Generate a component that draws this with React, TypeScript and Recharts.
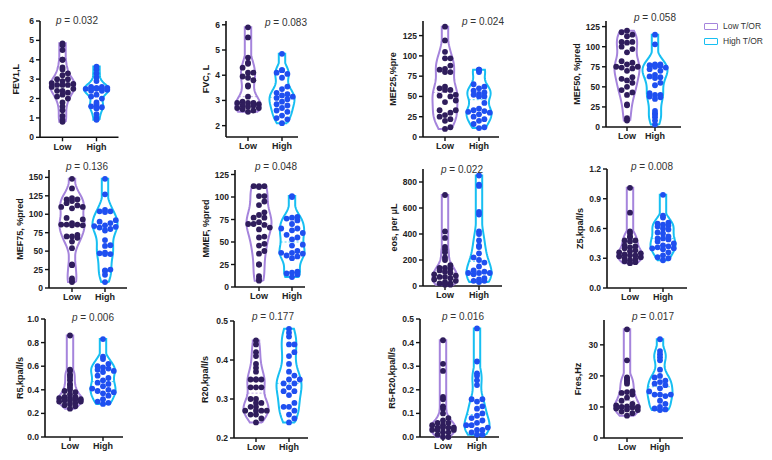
import React from 'react';
import { ScatterChart, Scatter, XAxis, YAxis } from 'recharts';

const groups = ['Low', 'High'];
const legendLabels = ['Low T/OR', 'High T/OR'];

const fev1Low = [4.85, 4.75, 4.5, 4.0, 4.0, 3.6, 3.5, 3.3, 3.2, 3.0, 3.0, 2.9, 2.8, 2.75, 2.7, 2.7, 2.7, 2.6, 2.5, 2.4, 2.4, 2.3, 2.2, 2.1, 2.0, 1.8, 1.6, 1.4, 1.1, 0.9, 0.8];
const fev1High = [3.65, 3.5, 3.3, 3.1, 2.9, 2.6, 2.6, 2.55, 2.55, 2.5, 2.5, 2.5, 2.5, 2.45, 2.4, 2.4, 2.2, 2.1, 2.0, 1.8, 1.7, 1.6, 1.55, 1.5, 1.5, 1.2, 1.0, 0.9];
const fvcLow = [5.9, 5.5, 4.7, 4.5, 4.45, 4.3, 4.1, 4.1, 3.95, 3.9, 3.8, 3.6, 3.55, 3.15, 2.95, 2.9, 2.9, 2.9, 2.85, 2.8, 2.8, 2.75, 2.7, 2.7, 2.65, 2.6, 2.55];
const fvcHigh = [4.85, 4.2, 4.2, 4.1, 4.05, 3.9, 3.55, 3.45, 3.3, 3.25, 3.2, 3.15, 3.1, 3.05, 2.95, 2.85, 2.8, 2.7, 2.6, 2.55, 2.4, 2.3, 2.25, 2.1];
const mef25Low = [136, 119, 105, 97, 97, 88, 84, 83, 80, 80, 62, 60, 58, 58, 52, 51, 50, 45, 43, 33, 33, 30, 27, 25, 22, 20, 12, 10];
const mef25High = [83, 83, 82, 80, 65, 62, 60, 57, 55, 53, 52, 50, 50, 42, 35, 33, 32, 31, 30, 28, 25, 22, 20, 16, 12, 11];
const mef50Low = [120, 118, 115, 113, 106, 106, 105, 100, 97, 93, 82, 80, 78, 75, 75, 74, 73, 70, 62, 60, 58, 55, 50, 46, 43, 40, 28, 27, 11, 8];
const mef50High = [115, 103, 78, 78, 77, 77, 76, 75, 74, 72, 70, 65, 63, 62, 61, 55, 52, 42, 40, 40, 38, 37, 35, 20, 17, 15, 12, 8, 3];
const mef75Low = [148, 135, 122, 120, 120, 118, 115, 112, 110, 110, 108, 95, 93, 88, 86, 86, 86, 85, 85, 72, 70, 70, 68, 63, 54, 32, 31, 13, 10, 8];
const mef75High = [148, 127, 106, 104, 104, 103, 92, 90, 88, 85, 84, 83, 82, 80, 78, 65, 58, 57, 48, 47, 46, 46, 25, 24, 23, 18, 8];
const mmefLow = [112, 112, 112, 111, 101, 101, 95, 91, 83, 80, 77, 77, 72, 70, 70, 69, 66, 64, 56, 55, 48, 46, 40, 37, 25, 25, 12, 9, 7];
const mmefHigh = [101, 100, 78, 77, 76, 74, 70, 65, 65, 63, 60, 58, 55, 53, 47, 46, 40, 38, 38, 37, 35, 34, 32, 17, 16, 15, 14, 11];
const eosLow = [700, 420, 370, 300, 280, 260, 220, 200, 160, 140, 140, 130, 120, 110, 100, 90, 80, 70, 70, 60, 50, 40, 30, 20, 20, 20, 10, 10];
const eosHigh = [850, 780, 770, 570, 550, 420, 400, 350, 310, 300, 250, 220, 200, 180, 150, 120, 110, 100, 100, 100, 90, 60, 50, 40, 40, 30];
const z5Low = [1.01, 0.76, 0.57, 0.55, 0.52, 0.51, 0.48, 0.48, 0.47, 0.43, 0.42, 0.41, 0.4, 0.38, 0.37, 0.36, 0.35, 0.34, 0.33, 0.33, 0.32, 0.31, 0.3, 0.29, 0.28, 0.27, 0.26, 0.25];
const z5High = [0.94, 0.73, 0.71, 0.66, 0.65, 0.64, 0.63, 0.62, 0.6, 0.59, 0.56, 0.55, 0.52, 0.5, 0.5, 0.49, 0.47, 0.45, 0.43, 0.42, 0.41, 0.4, 0.4, 0.39, 0.36, 0.33, 0.31, 0.3, 0.28];
const r5Low = [0.86, 0.57, 0.56, 0.53, 0.52, 0.5, 0.48, 0.45, 0.44, 0.42, 0.4, 0.39, 0.38, 0.36, 0.34, 0.34, 0.33, 0.33, 0.32, 0.32, 0.31, 0.31, 0.3, 0.3, 0.29, 0.28, 0.27, 0.26, 0.24];
const r5High = [0.83, 0.68, 0.66, 0.62, 0.6, 0.59, 0.58, 0.57, 0.56, 0.55, 0.52, 0.5, 0.48, 0.46, 0.45, 0.43, 0.41, 0.4, 0.39, 0.38, 0.37, 0.35, 0.32, 0.3, 0.29, 0.28];
const r20Low = [0.45, 0.44, 0.42, 0.41, 0.39, 0.38, 0.37, 0.35, 0.35, 0.35, 0.35, 0.33, 0.33, 0.33, 0.3, 0.3, 0.29, 0.29, 0.28, 0.28, 0.27, 0.27, 0.27, 0.27, 0.26, 0.26, 0.25, 0.24];
const r20High = [0.48, 0.47, 0.46, 0.44, 0.44, 0.42, 0.41, 0.39, 0.37, 0.36, 0.35, 0.35, 0.34, 0.34, 0.33, 0.32, 0.32, 0.31, 0.29, 0.28, 0.28, 0.27, 0.26, 0.25, 0.24];
const r5r20Low = [0.41, 0.31, 0.28, 0.17, 0.16, 0.13, 0.12, 0.1, 0.08, 0.07, 0.06, 0.06, 0.05, 0.05, 0.04, 0.04, 0.04, 0.04, 0.03, 0.03, 0.03, 0.02, 0.02, 0.01, 0.0, 0.0];
const r5r20High = [0.46, 0.32, 0.27, 0.26, 0.24, 0.22, 0.16, 0.16, 0.15, 0.13, 0.12, 0.1, 0.09, 0.08, 0.07, 0.06, 0.05, 0.05, 0.04, 0.03, 0.03, 0.02, 0.01, 0.01];
const fresLow = [35, 25, 19.5, 19, 18.5, 18, 17.5, 15, 14.8, 14.5, 14, 13, 12, 11, 10.5, 10.2, 10, 10, 9.8, 9.5, 9.2, 9, 8.5, 8, 7.2];
const fresHigh = [31.8, 28, 27, 26, 25, 22, 20, 19.5, 18.5, 18, 17.5, 17, 16, 15, 14, 14, 14, 13.5, 12, 11, 10, 9.5, 9.2, 9];

const yLabels = ['FEV1,L', 'FVC, L', 'MEF25,%pre', 'MEF50, %pred', 'MEF75, %pred', 'MMEF, %pred', 'eos, per μL', 'Z5,kpa/l/s', 'R5,kpa/l/s', 'R20,kpa/l/s', 'R5-R20,kpa/l/s', 'Fres,Hz'];
const pValues = ['0.032', '0.083', '0.024', '0.058', '0.136', '0.048', '0.022', '0.008', '0.006', '0.177', '0.016', '0.017'];
const yDomains = [[0, 6], [1.55, 6.15], [0, 143], [0, 132], [0, 160], [0, 130], [0, 900], [0, 1.2], [0, 1], [0.2, 0.5], [0, 0.5], [0, 38]];
const yTicks = [
  [0, 1, 2, 3, 4, 5, 6], [2, 3, 4, 5, 6], [0, 25, 50, 75, 100, 125], [0, 25, 50, 75, 100, 125],
  [0, 25, 50, 75, 100, 125, 150], [0, 25, 50, 75, 100, 125], [0, 200, 400, 600, 800], [0, 0.3, 0.6, 0.9, 1.2],
  [0, 0.2, 0.4, 0.6, 0.8, 1.0], [0.2, 0.3, 0.4, 0.5], [0, 0.1, 0.2, 0.3, 0.4, 0.5], [0, 10, 20, 30],
];
const tickDecimals = [0, 0, 0, 0, 0, 0, 0, 1, 1, 1, 1, 0];
const series = [
  [fev1Low, fev1High], [fvcLow, fvcHigh], [mef25Low, mef25High], [mef50Low, mef50High],
  [mef75Low, mef75High], [mmefLow, mmefHigh], [eosLow, eosHigh], [z5Low, z5High],
  [r5Low, r5High], [r20Low, r20High], [r5r20Low, r5r20High], [fresLow, fresHigh],
];

// x0, x1, lowX, highX, yTop, yBot, labelGap, pX, pY
const layout = [
  [39.5, 118, 62, 96, 20.7, 137, 23.5, 77, 21],
  [226, 298, 248, 282, 21, 137, 20, 286, 23],
  [423, 499, 445, 479, 21, 137, 30, 483, 22],
  [606, 681, 627, 655, 21, 127, 29, 655, 18],
  [49, 127, 72, 105, 170, 288, 29, 87, 167],
  [235, 305, 259, 292, 170, 287, 29, 276, 167],
  [423, 502, 445, 479, 169, 286, 29, 462, 170],
  [607, 687, 630, 663, 169, 288, 27, 652, 167],
  [45, 123, 70, 103, 319, 437, 25, 93, 318],
  [234, 308, 256, 289, 321, 438, 29, 273, 317],
  [420, 499, 443, 477, 319, 437, 28, 463, 317],
  [604, 683, 627, 660, 320, 438, 26, 653, 317],
];

const FONT = '"Liberation Sans", Arial, sans-serif';
const dotColors = ['#2f1d5c', '#1f4ff0'];
const violinColors = ['#a584dc', '#17bff2'];
const DOT_R = 2.9;
const MAX_HALF = 12.5;

const NoDot = () => <g />;

function quantile(sorted: number[], q: number) {
  const pos = (sorted.length - 1) * q;
  const lo = Math.floor(pos);
  const hi = Math.ceil(pos);
  return sorted[lo] + (sorted[hi] - sorted[lo]) * (pos - lo);
}

function buildViolin(values: number[], center: number, sx: number) {
  const sorted = [...values].sort((a, b) => a - b);
  const n = sorted.length;
  const mean = sorted.reduce((a, b) => a + b, 0) / n;
  const sd = Math.sqrt(sorted.reduce((a, b) => a + (b - mean) ** 2, 0) / (n - 1));
  const iqr = quantile(sorted, 0.75) - quantile(sorted, 0.25);
  const spread = iqr > 0 ? Math.min(sd, iqr / 1.34) : sd;
  const h = 0.72 * spread * Math.pow(n, -0.2) || 1e-3;
  const dens = (y: number) => sorted.reduce((a, v) => a + Math.exp(-0.5 * ((y - v) / h) ** 2), 0);
  const lo = sorted[0];
  const hi = sorted[n - 1];
  const steps = 60;
  const ys: number[] = [];
  for (let i = 0; i <= steps; i++) ys.push(lo + ((hi - lo) * i) / steps);
  const dmax = Math.max(...ys.map(dens));
  const widthAt = (y: number) => Math.max(3.2, (MAX_HALF * dens(y)) / dmax);
  const right = ys.map((y) => ({ x: center + widthAt(y) / sx, y }));
  const left = [...ys].reverse().map((y) => ({ x: center - widthAt(y) / sx, y }));
  const outline = [...right, ...left, right[0]];
  const med = quantile(sorted, 0.5);
  const median = [
    { x: center - widthAt(med) / sx, y: med },
    { x: center + widthAt(med) / sx, y: med },
  ];
  return { outline, median, widthAt };
}

function swarm(values: number[], center: number, sx: number, sy: number, widthAt: (y: number) => number) {
  const step = 5.4;
  const order = values.map((_, i) => i).sort((a, b) => values[a] - values[b]);
  const placed: { x: number; y: number }[] = [];
  const out: { x: number; y: number }[] = new Array(values.length);
  for (const i of order) {
    const yPx = values[i] * sy;
    const lim = Math.max(0, widthAt(values[i]) - DOT_R + 2);
    let best = 0;
    let bestScore = -Infinity;
    for (let k = 0; k < 9; k++) {
      const off = (k % 2 === 1 ? 1 : -1) * Math.ceil(k / 2) * step;
      if (k > 0 && Math.abs(off) > lim) continue;
      let minD = Infinity;
      for (const p of placed) minD = Math.min(minD, Math.hypot(p.x - off, p.y - yPx));
      if (minD >= 2 * DOT_R) {
        best = off;
        break;
      }
      if (minD > bestScore) {
        bestScore = minD;
        best = off;
      }
    }
    placed.push({ x: best, y: yPx });
    out[i] = { x: center + best / sx, y: values[i] };
  }
  return out;
}

function Panel({ idx }: { idx: number }) {
  const [x0, x1, lowX, highX, yTop, yBot, labelGap] = layout[idx];
  const dom = yDomains[idx];
  const s = highX - lowX;
  const xDomain = [1 - (lowX - x0) / s, 2 + (x1 - highX) / s];
  const sy = (yBot - yTop) / (dom[1] - dom[0]);
  const YW = 45;
  const MT = 6;
  const MR = 6;
  const XH = 22;
  const groupsData = series[idx].map((vals, g) => {
    const v = buildViolin(vals, g + 1, s);
    const dots = swarm(vals, g + 1, s, sy, v.widthAt);
    return { ...v, dots };
  });
  const dec = tickDecimals[idx];
  return (
    <div style={{ position: 'absolute', left: x0 - YW, top: yTop - MT }}>
      <ScatterChart
        width={x1 - x0 + YW + MR}
        height={yBot - yTop + MT + XH}
        margin={{ top: MT, right: MR, bottom: 0, left: 0 }}
      >
        <XAxis
          type="number"
          dataKey="x"
          domain={xDomain}
          ticks={[1, 2]}
          interval={0}
          height={XH}
          tickFormatter={(v: number) => groups[Math.round(v) - 1]}
          tick={{ fontSize: 9, fontWeight: 700, fill: '#222', fontFamily: FONT }}
          tickSize={4}
          axisLine={{ stroke: '#111', strokeWidth: 1.6 }}
          tickLine={{ stroke: '#111', strokeWidth: 1.4 }}
        />
        <YAxis
          type="number"
          dataKey="y"
          domain={dom}
          ticks={yTicks[idx]}
          interval={0}
          width={YW}
          tickFormatter={(v: number) => v.toFixed(dec)}
          tick={{ fontSize: 8.5, fontWeight: 700, fill: '#222', fontFamily: FONT }}
          tickSize={4}
          axisLine={{ stroke: '#111', strokeWidth: 1.6 }}
          tickLine={{ stroke: '#111', strokeWidth: 1.4 }}
          label={(props: any) => {
            const vb = props.viewBox || { x: 0, y: MT, width: YW, height: yBot - yTop };
            const cx = vb.x + vb.width - labelGap;
            const cy = vb.y + vb.height / 2;
            return (
              <text
                x={cx}
                y={cy}
                transform={`rotate(-90 ${cx} ${cy})`}
                textAnchor="middle"
                dominantBaseline="central"
                fontSize={9}
                fontWeight={700}
                fill="#1a1a1a"
                fontFamily={FONT}
              >
                {yLabels[idx]}
              </text>
            );
          }}
        />
        {groupsData.map((g, i) => (
          <Scatter
            key={`v${i}`}
            data={g.outline}
            fill={violinColors[i]}
            line={{ stroke: violinColors[i], strokeWidth: 2 }}
            lineJointType="linear"
            shape={NoDot}
            isAnimationActive={false}
          />
        ))}
        {groupsData.map((g, i) => (
          <Scatter
            key={`m${i}`}
            data={g.median}
            fill={violinColors[i]}
            line={{ stroke: violinColors[i], strokeWidth: 0.9, strokeDasharray: '2 2', strokeOpacity: 0.8 }}
            shape={NoDot}
            isAnimationActive={false}
          />
        ))}
        {groupsData.map((g, i) => (
          <Scatter
            key={`d${i}`}
            data={g.dots}
            fill={dotColors[i]}
            shape={(p: any) => <circle cx={p.cx} cy={p.cy} r={DOT_R} fill={dotColors[i]} />}
            isAnimationActive={false}
          />
        ))}
      </ScatterChart>
    </div>
  );
}

export default function App() {
  return (
    <div
      style={{
        position: 'absolute',
        left: 0,
        top: 0,
        width: 772,
        height: 460,
        background: '#fff',
        fontFamily: FONT,
        overflow: 'hidden',
      }}
    >
      {layout.map((_, i) => (
        <Panel key={i} idx={i} />
      ))}
      {layout.map((l, i) => (
        <div
          key={`p${i}`}
          style={{
            position: 'absolute',
            left: l[7] - 40,
            width: 80,
            top: l[8] - 7,
            lineHeight: '14px',
            textAlign: 'center',
            fontSize: 10,
            color: '#333',
            whiteSpace: 'nowrap',
          }}
        >
          <i>p</i> = {pValues[i]}
        </div>
      ))}
      {legendLabels.map((t, i) => (
        <div key={t} style={{ position: 'absolute', left: 704, top: 20 + i * 15, height: 12, display: 'flex', alignItems: 'center' }}>
          <div
            style={{
              width: 12,
              height: 5,
              border: `1.5px solid ${violinColors[i]}`,
              borderRadius: 1,
              marginRight: 5,
            }}
          />
          <span style={{ fontSize: 8.5, color: '#333', whiteSpace: 'nowrap' }}>{t}</span>
        </div>
      ))}
    </div>
  );
}
